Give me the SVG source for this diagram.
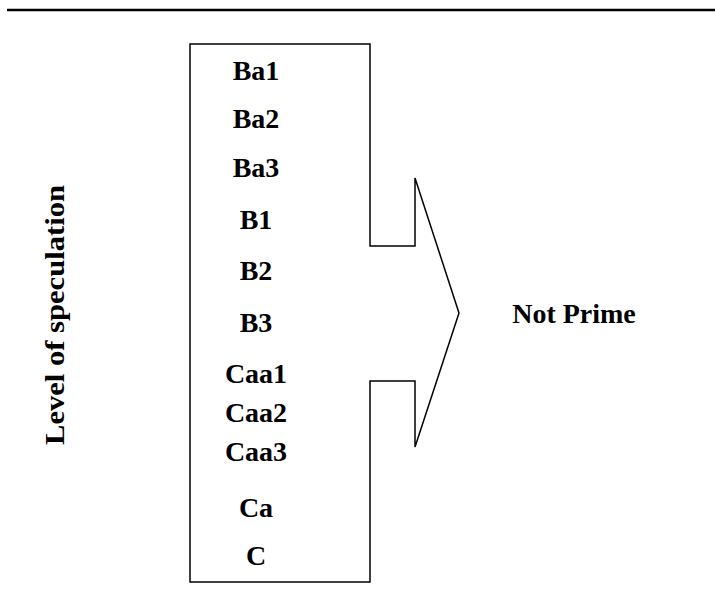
<svg xmlns="http://www.w3.org/2000/svg" width="715" height="595" viewBox="0 0 715 595">
<style>
.t{font-family:"Liberation Serif","Times New Roman",serif;font-weight:bold;font-size:28px;fill:#000;text-anchor:middle}
.s{fill:none;stroke:#000;stroke-width:1.5}
</style>
<rect width="715" height="595" fill="#fff"/>
<line x1="7" y1="10" x2="715" y2="10" stroke="#000" stroke-width="2.5"/>
<g id="axis-label">
<text class="t" transform="translate(64,315) rotate(-90)" x="0" y="0" textLength="260" lengthAdjust="spacingAndGlyphs">Level of speculation</text>
</g>
<g id="ratings">
<path class="s" d="M190,44 H370 V246 H415 V178 L459,313 L415,447 V381 H370 V582 H190 Z"/>
<text class="t" x="256" y="80">Ba1</text>
<text class="t" x="256" y="128">Ba2</text>
<text class="t" x="256" y="177">Ba3</text>
<text class="t" x="256" y="229">B1</text>
<text class="t" x="256" y="280">B2</text>
<text class="t" x="256" y="332">B3</text>
<text class="t" x="256" y="383">Caa1</text>
<text class="t" x="256" y="422">Caa2</text>
<text class="t" x="256" y="461">Caa3</text>
<text class="t" x="256" y="517">Ca</text>
<text class="t" x="256" y="565">C</text>
</g>
<g id="not-prime">
<text class="t" x="574" y="323">Not Prime</text>
</g>
</svg>
